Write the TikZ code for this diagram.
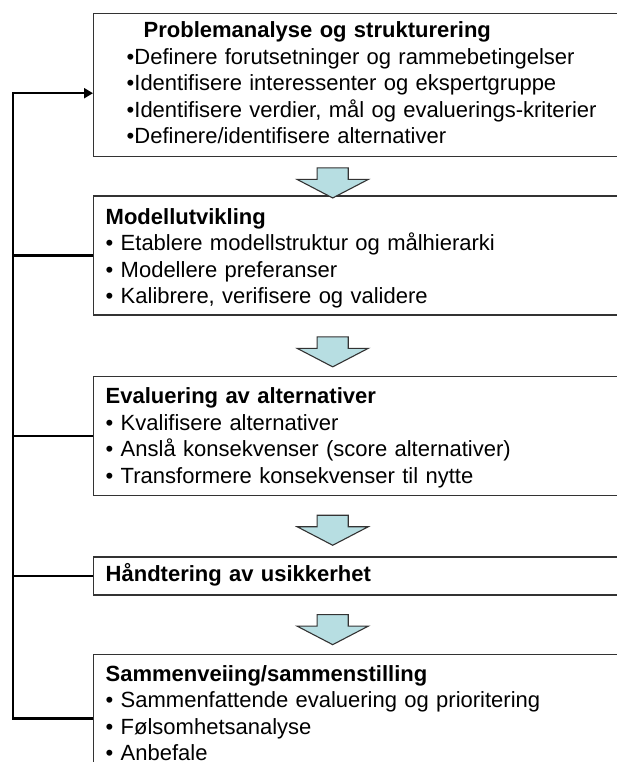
\documentclass[tikz,border=0pt]{standalone}
\usepackage{fontspec}
\setmainfont{Liberation Sans}
\usetikzlibrary{shapes.arrows, positioning, calc, arrows.meta}
\definecolor{arrowfill}{RGB}{183,222,226}

\begin{document}
\begin{tikzpicture}[
        font=\fontsize{22pt}{26.5pt}\selectfont,
        box/.style={rectangle, draw=black!80, line width=1.4pt, fill=white, align=left, text width=535pt, inner xsep=12pt, inner ysep=0pt, anchor=north west},
        blockarrow/.style={single arrow, rotate=-90, draw=black!80, line width=1.1pt, fill=arrowfill, minimum height=30pt, minimum width=70pt, inner xsep=0pt, inner ysep=15pt, single arrow head extend=20pt, single arrow tip angle=125},
        loopline/.style={line width=2.4pt, black},
      ]
        \useasboundingbox (0pt,0pt) rectangle (617pt,-762pt);

        \node[box, text height=24pt, text depth=119pt] (b1) at (93pt,-13pt) {\hspace*{38pt}\textbf{Problemanalyse og strukturering}\\
          \hspace*{21pt}\textbullet Definere forutsetninger og rammebetingelser\\
          \hspace*{21pt}\textbullet Identifisere interessenter og ekspertgruppe\\
          \hspace*{21pt}\textbullet Identifisere verdier, mål og evaluerings-kriterier\\
          \hspace*{21pt}\textbullet Definere/identifisere alternativer};
        \node[box, text height=28pt, text depth=91pt, below=38pt of b1] (b2) {\textbf{Modellutvikling}\\
          \textbullet\ Etablere modellstruktur og målhierarki\\
          \textbullet\ Modellere preferanser\\
          \textbullet\ Kalibrere, verifisere og validere};
        \node[box, text height=27pt, text depth=92pt, below=60pt of b2] (b3) {\textbf{Evaluering av alternativer}\\
          \textbullet\ Kvalifisere alternativer\\
          \textbullet\ Anslå konsekvenser (score alternativer)\\
          \textbullet\ Transformere konsekvenser til nytte};
        \node[box, text height=25pt, text depth=13pt, below=60pt of b3] (b4) {\textbf{Håndtering av usikkerhet}};
        \node[box, text height=27pt, text depth=101pt, below=58pt of b4] (b5) {\textbf{Sammenveiing/sammenstilling}\\
          \textbullet\ Sammenfattende evaluering og prioritering\\
          \textbullet\ Følsomhetsanalyse\\
          \textbullet\ Anbefale};

        % block arrows between the steps
        \foreach \u/\l/\dy [count=\i] in {b1/b2/-2.5, b2/b3/-2, b3/b4/0, b4/b5/-1}
          \node[blockarrow] (a\i) at ($(\u.south)!0.5!(\l.north)+(-40.5pt,\dy pt)$) {};

        % feedback loop
        \coordinate (loop) at ([xshift=-80pt]b5.west);
        \draw[loopline, -{Triangle[length=9pt,width=10pt]}] (b5.west) -- (loop) |- ([yshift=-8pt]b1.west);
        \foreach \b in {b2, b3, b4}
          \draw[loopline] (\b.west) -- (\b.west -| loop);
      \end{tikzpicture}
\end{document}
